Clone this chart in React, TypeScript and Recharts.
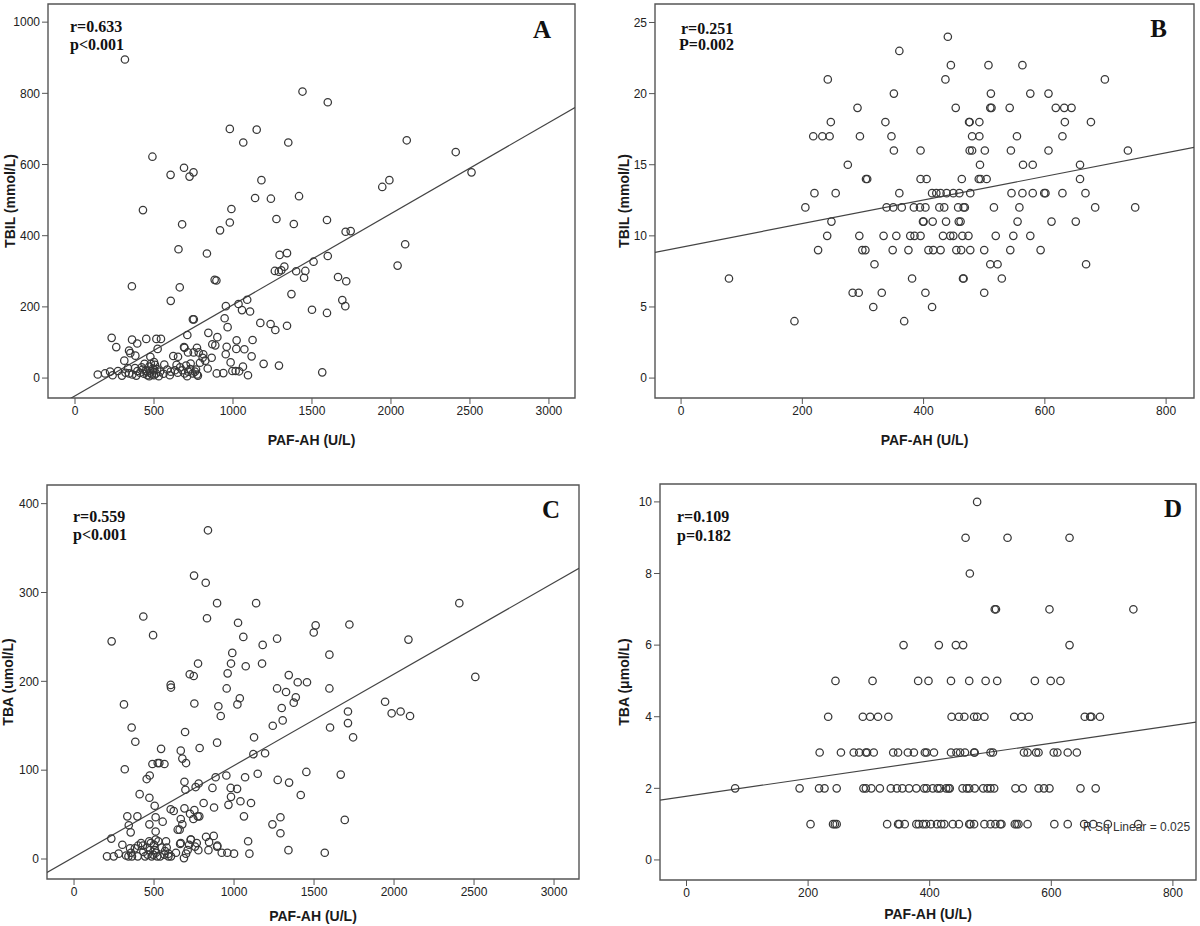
import React from 'react';
import { ScatterChart, Scatter, XAxis, YAxis, ReferenceLine, ReferenceArea } from 'recharts';

// A: TBIL vs PAF-AH
const aPaf = [316, 1440, 1600, 980, 1150, 1065, 1350, 2100, 490, 2410, 2510, 605, 690, 750, 725, 1180, 1945, 1990, 1140, 1240, 1418,
  430, 990, 678, 980, 918, 1275, 1385, 1595, 1713, 1745, 2090, 655, 835, 1295, 1342, 1600, 1510, 2042, 1265, 1290, 1306, 1325, 1400, 1458,
  1450, 1665, 1717, 360, 663, 884, 895, 606, 955, 1035, 1090, 1057, 1108, 1370, 1500, 1595, 1692, 1711, 746, 752, 947, 966, 1173, 1238,
  1268, 1342, 711, 844, 901, 232, 361, 451, 515, 544, 261, 394, 342, 350, 382, 523, 477, 690, 693, 715, 772, 783, 751, 869, 888, 865,
  812, 825, 960, 954, 1023, 1021, 1072, 1124, 1118, 985, 1063, 840, 1194, 1291, 1565, 996, 1017, 1039, 1095, 897, 939, 778, 759,
  144, 190, 222, 238, 272, 297, 312, 335, 342, 363, 380, 388, 411, 422, 437, 449, 470, 475, 487, 502, 506, 513, 494, 458, 428, 538,
  565, 584, 606, 633, 643, 622, 652, 665, 679, 694, 703, 717, 732, 745, 766, 772, 791, 808,
  470, 500, 520, 455, 480, 530, 560, 600, 710, 730, 650, 395, 320, 500, 440];
const aTbil = [895, 805, 775, 700, 698, 662, 662, 668, 622, 635, 578, 571, 591, 578, 566, 556, 537, 556, 506, 504, 511,
  472, 475, 432, 437, 415, 447, 433, 444, 411, 413, 376, 362, 350, 346, 351, 343, 327, 316, 301, 299, 303, 313, 300, 301,
  282, 284, 272, 258, 255, 276, 274, 217, 202, 208, 220, 191, 187, 236, 192, 183, 219, 202, 165, 165, 168, 143, 155, 152,
  135, 147, 121, 127, 115, 113, 108, 110, 110, 110, 87, 97, 77, 70, 63, 82, 60, 87, 85, 72, 85, 72, 72, 95, 92, 57,
  67, 49, 88, 67, 106, 82, 81, 107, 61, 44, 32, 27, 40, 35, 16, 20, 20, 19, 8, 13, 14, 7, 18,
  10, 13, 18, 8, 20, 7, 49, 28, 13, 10, 28, 7, 15, 30, 12, 21, 32, 15, 10, 22, 37, 13, 27, 8, 24, 18,
  38, 24, 18, 22, 37, 62, 60, 30, 22, 13, 35, 18, 41, 13, 24, 10, 43, 57,
  5, 8, 25, 18, 40, 5, 12, 8, 5, 25, 15, 20, 15, 45, 40];
const fitA = { a: -50, b: 0.256 };

// B: TBIL vs PAF-AH (second cohort)
const bPaf = [440, 360, 445, 507, 563, 242, 436, 699, 351, 511, 576, 606,
  291, 453, 510, 512, 542, 618, 632, 644, 247, 337, 475, 476, 492, 633, 676,
  218, 233, 245, 295, 347, 480, 492, 554, 629, 351, 395, 476, 480, 501, 544, 606, 737,
  275, 493, 564, 580, 658, 305, 307, 395, 405, 463, 491, 494, 504, 658,
  220, 255, 360, 414, 421, 428, 438, 449, 459, 477, 545, 563, 580, 599, 601, 629, 667,
  205, 339, 350, 364, 384, 394, 403, 426, 434, 457, 466, 468, 516, 558, 683, 749,
  248, 399, 400, 415, 437, 458, 461, 555, 611, 651,
  241, 294, 334, 355, 378, 385, 395, 432, 444, 449, 464, 474, 519, 548, 576,
  226, 299, 304, 349, 375, 408, 416, 428, 454, 462, 477, 500, 543, 593,
  319, 510, 522, 668, 79, 381, 465, 466, 529, 283, 293, 331, 403, 500, 317, 414, 187, 368];
const bTbil = [24, 23, 22, 22, 22, 21, 21, 21, 20, 20, 20, 20,
  19, 19, 19, 19, 19, 19, 19, 19, 18, 18, 18, 18, 18, 18, 18,
  17, 17, 17, 17, 17, 17, 17, 17, 17, 16, 16, 16, 16, 16, 16, 16, 16,
  15, 15, 15, 15, 15, 14, 14, 14, 14, 14, 14, 14, 14, 14,
  13, 13, 13, 13, 13, 13, 13, 13, 13, 13, 13, 13, 13, 13, 13, 13, 13,
  12, 12, 12, 12, 12, 12, 12, 12, 12, 12, 12, 12, 12, 12, 12, 12,
  11, 11, 11, 11, 11, 11, 11, 11, 11, 11,
  10, 10, 10, 10, 10, 10, 10, 10, 10, 10, 10, 10, 10, 10, 10,
  9, 9, 9, 9, 9, 9, 9, 9, 9, 9, 9, 9, 9, 9,
  8, 8, 8, 8, 7, 7, 7, 7, 7, 6, 6, 6, 6, 6, 5, 5, 4, 4];
const fitB = { a: 9.2, b: 0.0083 };

// C: TBA vs PAF-AH
const cPaf = [837, 750, 823, 894, 1138, 2408, 433, 831, 1025, 1510, 1498, 1721, 494, 235, 1058, 1179, 1269, 2090, 989, 1596,
  775, 981, 1073, 1175, 723, 748, 960, 1342, 2508, 1398, 1456, 604, 606, 954, 1269, 1325, 1596, 1036, 1021, 1386, 1373, 752,
  312, 902, 917, 1298, 1304, 1242, 1944, 1712, 1985, 2041, 2100, 1712, 1600, 1744, 360, 383, 694, 894, 1125, 544, 667, 785,
  677, 700, 1121, 1194, 317, 490, 523, 533, 565, 473, 454, 885, 952, 1069, 1148, 1452, 1667, 1273, 1344, 690, 779, 760, 696,
  865, 979, 1019, 981, 1040, 1106, 1417, 410, 471, 810, 875, 965, 504, 604, 623, 690, 752, 333, 396, 510, 554, 667, 725, 773,
  783, 746, 1062, 1290, 1692, 342, 354, 471, 510, 660, 648, 677, 1240, 1290, 233, 825, 873, 844, 1088, 894, 663, 729,
  206, 248, 279, 325, 356, 398, 419, 433, 444, 458, 475, 485, 500, 512, 527, 538, 548, 565, 575, 579, 590, 569, 362, 302,
  590, 606, 637, 667, 687, 700, 710, 719, 731, 756, 767, 777, 840, 896, 923, 958, 1000, 1096, 1340, 1567,
  380, 400, 460, 480, 505, 520, 495, 430, 350, 340, 470, 510];
const cTba = [370, 319, 311, 288, 288, 288, 273, 271, 266, 263, 255, 264, 252, 245, 250, 241, 248, 247, 232, 230,
  220, 220, 217, 220, 208, 206, 209, 207, 205, 199, 199, 196, 193, 192, 192, 188, 192, 181, 174, 182, 176, 175,
  174, 172, 161, 170, 156, 150, 177, 166, 164, 166, 161, 153, 148, 137, 148, 132, 143, 131, 137, 124, 122, 125,
  113, 108, 118, 119, 101, 107, 108, 108, 107, 94, 90, 92, 94, 92, 96, 98, 95, 89, 86, 87, 85, 81, 78,
  80, 80, 79, 70, 65, 63, 72, 73, 69, 63, 58, 61, 60, 56, 54, 57, 55, 48, 48, 47, 42, 45, 51, 48,
  48, 45, 48, 47, 44, 38, 30, 39, 31, 33, 33, 39, 39, 29, 23, 25, 26, 19, 20, 14, 17, 22,
  3, 3, 6, 4, 7, 3, 18, 8, 3, 13, 10, 3, 16, 7, 20, 3, 13, 5, 20, 13, 3, 9, 3, 16,
  6, 3, 7, 18, 1, 6, 10, 16, 22, 14, 18, 10, 10, 15, 7, 7, 6, 6, 10, 7,
  12, 15, 5, 18, 10, 3, 5, 15, 12, 3, 20, 22];
const fitC = { a: 2.2, b: 0.103 };

// D: TBA vs PAF-AH (second cohort)
const dPaf = [478, 459, 528, 630, 466, 507, 509, 597, 735, 357, 415, 443, 455, 630,
  245, 306, 381, 398, 435, 465, 492, 511, 573, 599, 615,
  233, 290, 302, 315, 332, 436, 448, 457, 473, 478, 490, 539, 551, 563, 655, 664, 666, 680,
  219, 254, 275, 284, 295, 297, 308, 340, 348, 364, 374, 392, 395, 407, 435, 444, 450, 458, 473, 474, 500, 504, 555, 561, 575, 579, 604, 610, 627, 642,
  80, 186, 218, 227, 247, 291, 295, 304, 318, 336, 346, 355, 366, 378, 391, 395, 405, 413, 417, 427, 431, 433, 454, 461, 465, 474, 488, 495, 500, 506, 541, 553, 579, 588, 597, 648, 673,
  204, 241, 244, 247, 330, 348, 350, 359, 378, 382, 389, 394, 402, 412, 419, 424, 438, 448, 465, 467, 473, 490, 500, 508, 516, 518, 540, 543, 546, 561, 605, 627, 654, 669, 693, 743];
const dTba = [10, 9, 9, 9, 8, 7, 7, 7, 7, 6, 6, 6, 6, 6,
  5, 5, 5, 5, 5, 5, 5, 5, 5, 5, 5,
  4, 4, 4, 4, 4, 4, 4, 4, 4, 4, 4, 4, 4, 4, 4, 4, 4, 4,
  3, 3, 3, 3, 3, 3, 3, 3, 3, 3, 3, 3, 3, 3, 3, 3, 3, 3, 3, 3, 3, 3, 3, 3, 3, 3, 3, 3, 3, 3,
  2, 2, 2, 2, 2, 2, 2, 2, 2, 2, 2, 2, 2, 2, 2, 2, 2, 2, 2, 2, 2, 2, 2, 2, 2, 2, 2, 2, 2, 2, 2, 2, 2, 2, 2, 2, 2,
  1, 1, 1, 1, 1, 1, 1, 1, 1, 1, 1, 1, 1, 1, 1, 1, 1, 1, 1, 1, 1, 1, 1, 1, 1, 1, 1, 1, 1, 1, 1, 1, 1, 1, 1, 1];
const fitD = { a: 1.78, b: 0.00247 };

const wideTicks = [0, 500, 1000, 1500, 2000, 2500, 3000];
const narrowTicks = [0, 200, 400, 600, 800];

const SANS = "'Liberation Sans', Arial, sans-serif";
const SERIF = "'Liberation Serif', 'Times New Roman', serif";
const tickFont = { fontSize: 12, fill: '#222', fontFamily: SANS };

const ring = (p: any) => (
  <circle cx={p.cx} cy={p.cy} r={3.7} fill="none" stroke="#383838" strokeWidth={1.25} />
);

const Panel = (props: any) => {
  const { left, top, w, h, margin, yw, xh, xTitleGap, paf, val, xDomain, yDomain, xTicks, yTicks, yTitle, yTitleGap, fit } = props;
  const data = paf.map((x: number, i: number) => ({ x, y: val[i] }));
  const seg = [
    { x: xDomain[0], y: fit.a + fit.b * xDomain[0] },
    { x: xDomain[1], y: fit.a + fit.b * xDomain[1] },
  ];
  return (
    <div style={{ position: 'absolute', left, top }}>
      <ScatterChart width={w} height={h} margin={margin}>
        <XAxis type="number" dataKey="x" domain={xDomain} ticks={xTicks} allowDataOverflow interval={0}
          axisLine={false} tickLine={{ stroke: '#555' }} tickSize={6} tick={tickFont} height={xh}
          label={(lp: any) => {
            const vb = lp.viewBox;
            return <text x={vb.x + vb.width / 2} y={vb.y + xTitleGap} textAnchor="middle" dominantBaseline="central"
              fontFamily={SANS} fontWeight="bold" fontSize={14} fill="#1a1a1a">PAF-AH (U/L)</text>;
          }} />
        <YAxis type="number" dataKey="y" domain={yDomain} ticks={yTicks} allowDataOverflow interval={0}
          axisLine={false} tickLine={{ stroke: '#555' }} tickSize={6} tick={tickFont} width={yw}
          label={(lp: any) => {
            const vb = lp.viewBox;
            const cx = vb.x + vb.width - yTitleGap;
            const cy = vb.y + vb.height / 2;
            return <text x={cx} y={cy} transform={`rotate(-90, ${cx}, ${cy})`} textAnchor="middle" dominantBaseline="central"
              fontFamily={SANS} fontWeight="bold" fontSize={14} fill="#1a1a1a">{yTitle}</text>;
          }} />
        <ReferenceArea x1={xDomain[0]} x2={xDomain[1]} y1={yDomain[0]} y2={yDomain[1]} fill="none" fillOpacity={0}
          stroke="#555" strokeWidth={1.4} ifOverflow="visible" />
        <Scatter data={data} shape={ring} isAnimationActive={false} />
        <ReferenceLine segment={seg} stroke="#444" strokeWidth={1.2} ifOverflow="hidden" />
      </ScatterChart>
    </div>
  );
};

const note = { fontFamily: SERIF, fontWeight: 'bold' as const, fontSize: 16, fill: '#111' };
const letter = { fontFamily: SERIF, fontWeight: 'bold' as const, fontSize: 25, fill: '#111' };

export default function App() {
  return (
    <div style={{ position: 'absolute', left: 0, top: 0, width: 1200, height: 926, background: '#fff' }}>
      <Panel left={0} top={0} w={600} h={460} margin={{ top: 4, right: 25, left: 0, bottom: 0 }} yw={48} xh={62} xTitleGap={42}
        paf={aPaf} val={aTbil} xDomain={[-171, 3165]} yDomain={[-56, 1051]} xTicks={wideTicks}
        yTicks={[0, 200, 400, 600, 800, 1000]} yTitle="TBIL (mmol/L)" yTitleGap={38} fit={fitA} />
      <Panel left={600} top={0} w={600} h={460} margin={{ top: 4, right: 6, left: 0, bottom: 0 }} yw={55} xh={62} xTitleGap={42}
        paf={bPaf} val={bTbil} xDomain={[-43, 846]} yDomain={[-1.4, 26.3]} xTicks={narrowTicks}
        yTicks={[0, 5, 10, 15, 20, 25]} yTitle="TBIL (mmol/L)" yTitleGap={31} fit={fitB} />
      <Panel left={0} top={460} w={600} h={466} margin={{ top: 25, right: 21, left: 0, bottom: 0 }} yw={47} xh={47} xTitleGap={37}
        paf={cPaf} val={cTba} xDomain={[-169, 3156]} yDomain={[-22.5, 421]} xTicks={wideTicks}
        yTicks={[0, 100, 200, 300, 400]} yTitle="TBA (umol/L)" yTitleGap={39} fit={fitC} />
      <Panel left={600} top={460} w={600} h={466} margin={{ top: 24, right: 4, left: 0, bottom: 0 }} yw={60} xh={46} xTitleGap={34}
        paf={dPaf} val={dTba} xDomain={[-43.6, 838]} yDomain={[-0.56, 10.5]} xTicks={narrowTicks}
        yTicks={[0, 2, 4, 6, 8, 10]} yTitle="TBA (μmol/L)" yTitleGap={36} fit={fitD} />
      <svg width={1200} height={926} style={{ position: 'absolute', left: 0, top: 0, pointerEvents: 'none' }}>
        <text x={70} y={32} style={note}>r=0.633</text>
        <text x={70} y={50} style={note}>p&lt;0.001</text>
        <text x={551} y={38} textAnchor="end" style={letter}>A</text>
        <text x={681} y={34} style={note}>r=0.251</text>
        <text x={679} y={50} style={note}>P=0.002</text>
        <text x={1167} y={37} textAnchor="end" style={letter}>B</text>
        <text x={73} y={522} style={note}>r=0.559</text>
        <text x={73} y={540} style={note}>p&lt;0.001</text>
        <text x={560} y={518} textAnchor="end" style={letter}>C</text>
        <text x={677} y={522} style={note}>r=0.109</text>
        <text x={677} y={541} style={note}>p=0.182</text>
        <text x={1182} y={517} textAnchor="end" style={letter}>D</text>
        <text x={1083} y={831} fontFamily={SANS} fontSize={12} fill="#333">R Sq Linear = 0.025</text>
      </svg>
    </div>
  );
}
